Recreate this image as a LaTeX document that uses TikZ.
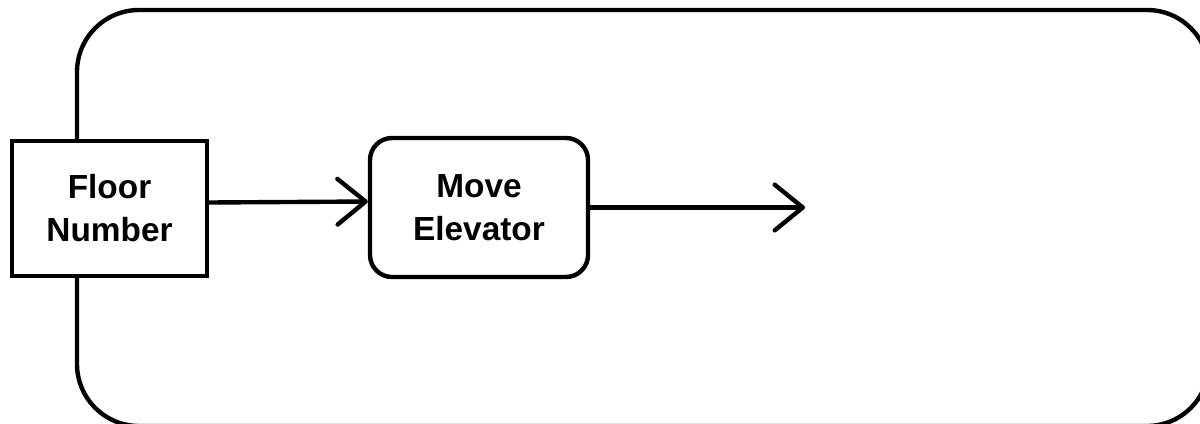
\documentclass[tikz,border=0pt]{standalone}
\usepackage{fontspec}
\setmainfont{Liberation Sans}
\usetikzlibrary{arrows.meta}

\tikzset{
  box/.style={draw, line width=2.5pt, fill=white, align=center, inner sep=0pt,
    font=\bfseries\fontsize{19}{24.5}\selectfont},
  flow/.style={line width=2.5pt, -{Straight Barb[length=16pt,width=26pt,round]}}
}

\begin{document}
\begin{tikzpicture}
  \useasboundingbox (0,0) rectangle (24,-8.46);
  \clip (0,0) rectangle (24,-8.46);
    % outer frame, runs off the page on the right and bottom
    \draw[line width=2.5pt, rounded corners=1.24cm] (1.54,-0.2) rectangle (24.18,-8.52);
    \node[box, minimum width=3.9cm, minimum height=2.7cm] (floor) at (2.19,-4.17) {Floor\\Number};
    \node[box, rounded corners=0.44cm, minimum width=4.36cm, minimum height=2.78cm] (move) at (9.58,-4.15) {Move\\Elevator};
    \coordinate (out) at (16.1,-4.15);
    \draw[flow] ([yshift=0.12cm]floor.east) to ([yshift=0.12cm]move.west);
    \draw[flow] (move.east) to (out);
  \end{tikzpicture}
\end{document}
